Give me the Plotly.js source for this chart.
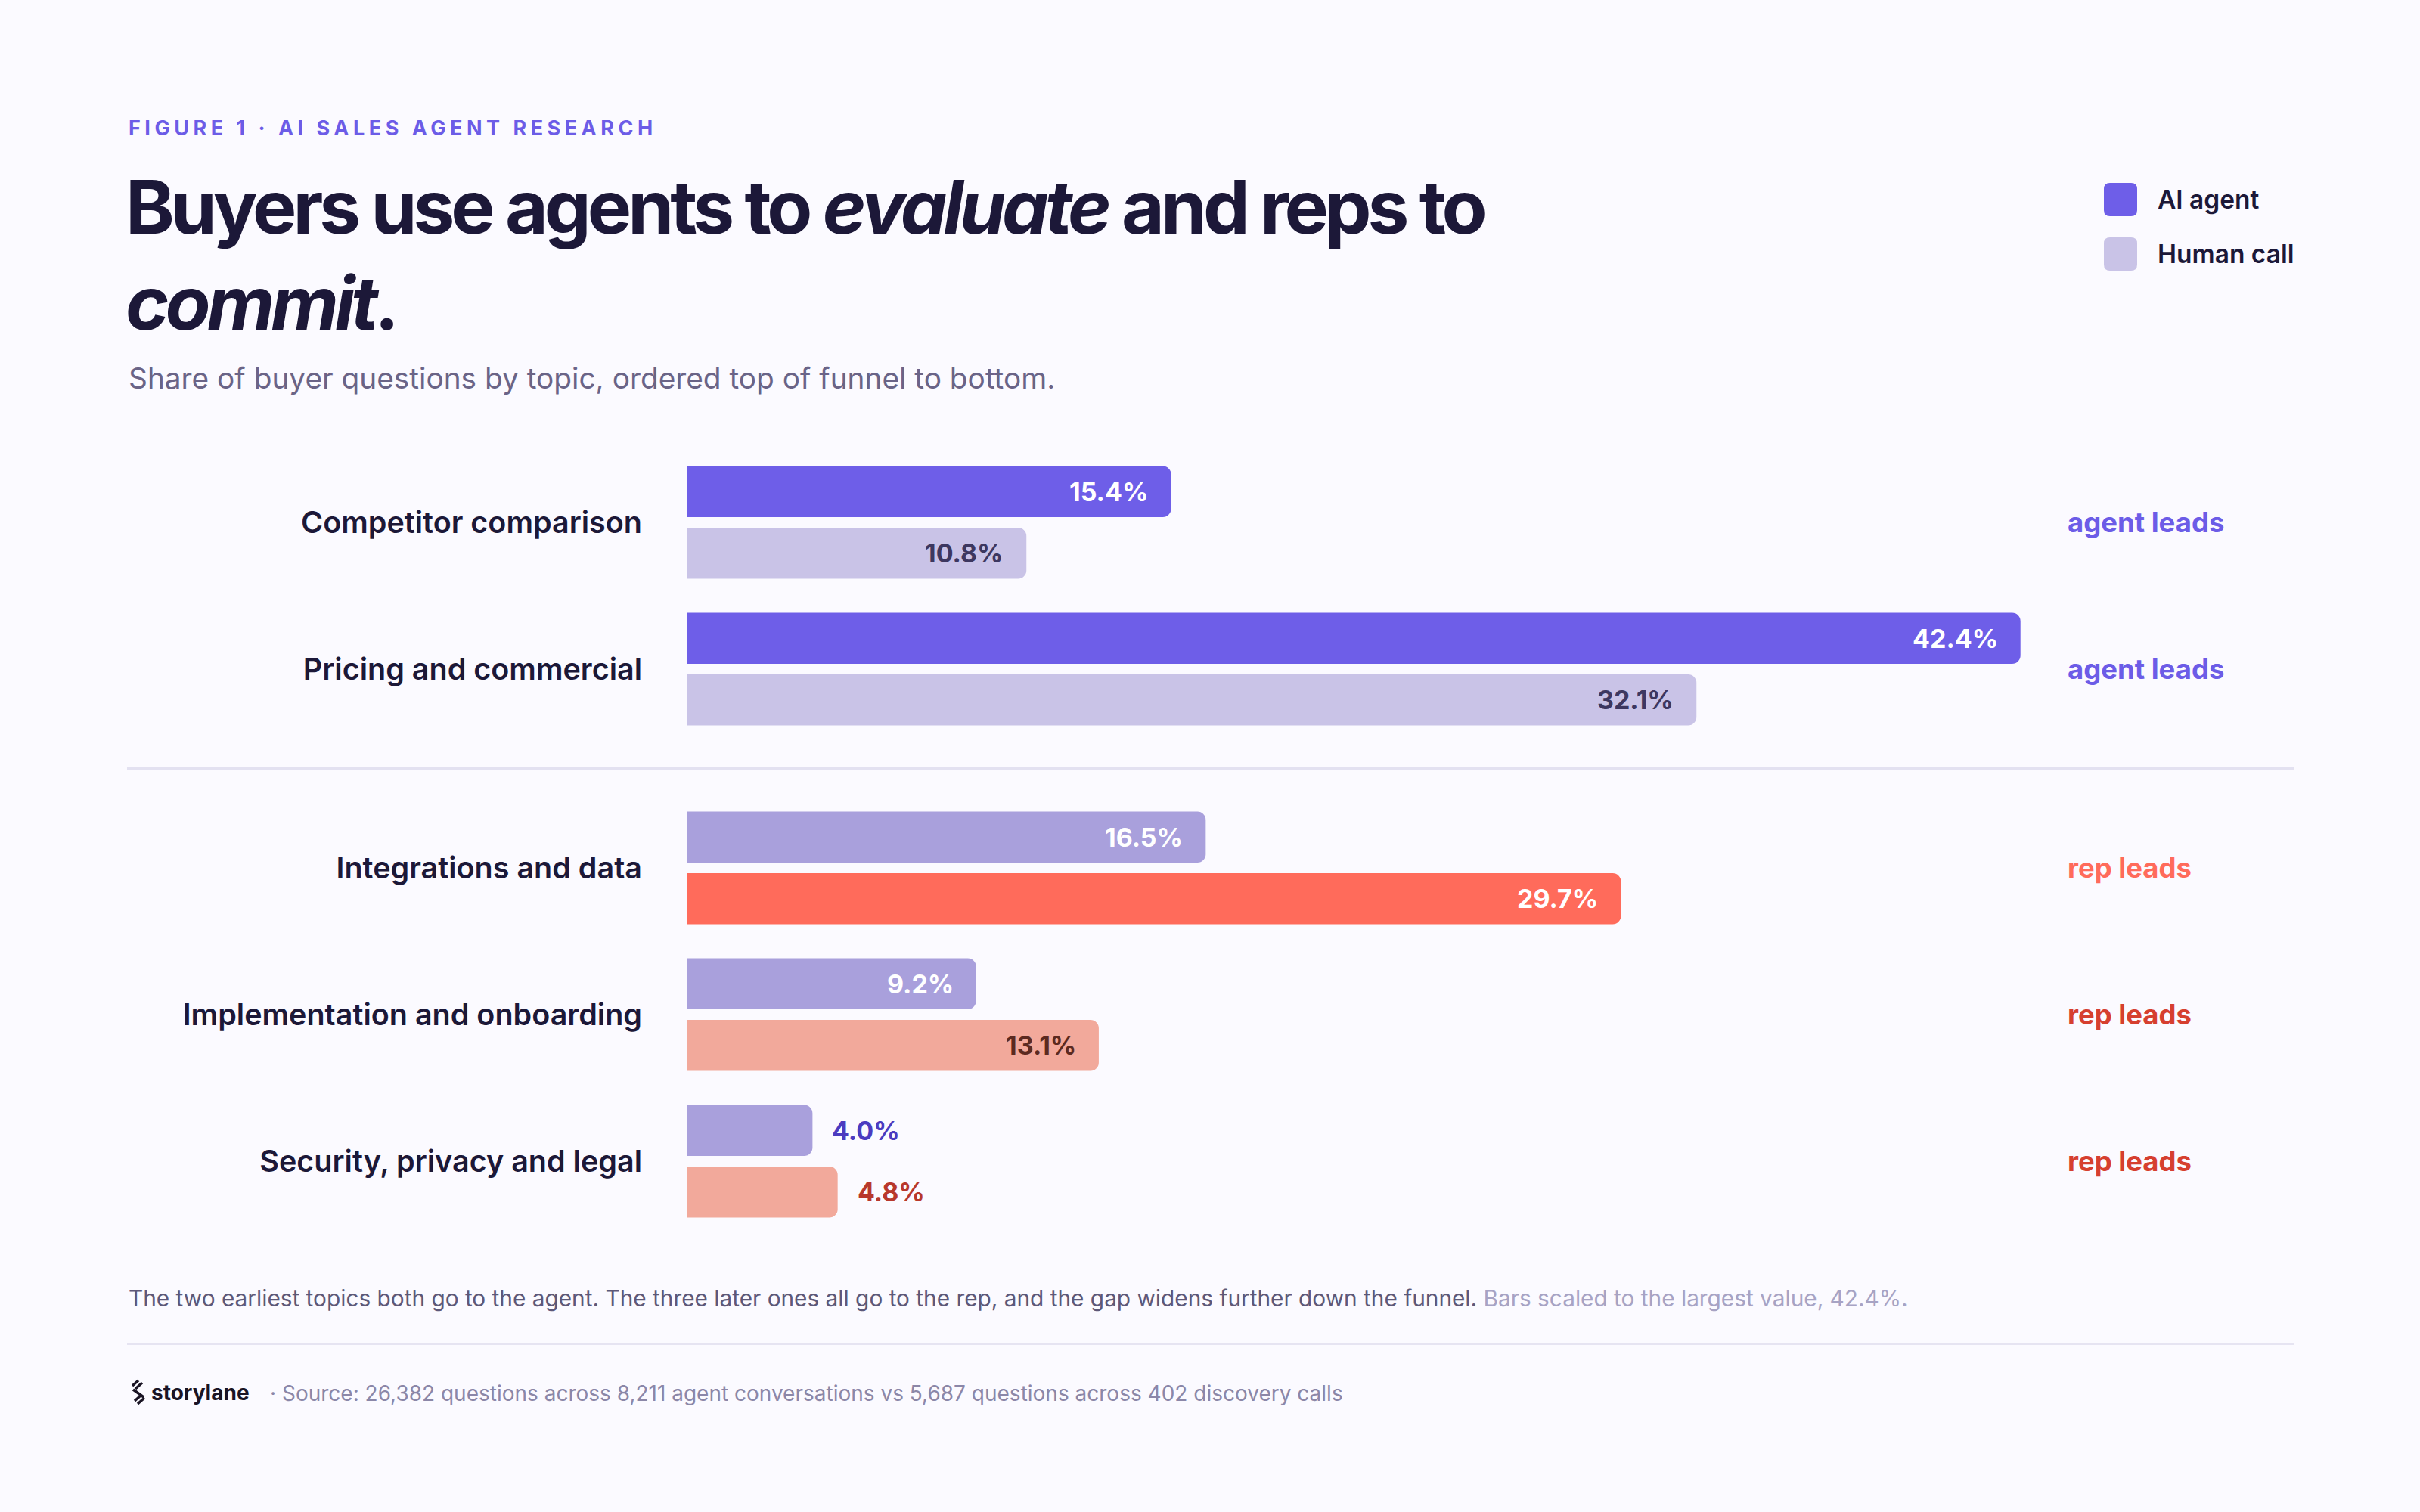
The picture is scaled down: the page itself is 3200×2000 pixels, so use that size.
<!DOCTYPE html>
<html>
<head>
<meta charset="utf-8">
<script src="https://cdn.plot.ly/plotly-3.0.1.min.js"></script>
<style>
  html, body { margin: 0; padding: 0; background: #fbfaff; }
  #chart { width: 3200px; height: 2000px; }
  .annotation-text[data-unformatted^="FIGURE"] { letter-spacing: 5.5px; }
  .annotation-text[data-unformatted^="Buyers"] { letter-spacing: -5px; }
</style>
</head>
<body>
<div id="chart"></div>
<script>
// data
const categories = [
    'Competitor comparison',
    'Pricing and commercial',
    'Integrations and data',
    'Implementation and onboarding',
    'Security, privacy and legal'
];
const agentShare = [15.4, 42.4, 16.5, 9.2, 4.0];
const humanShare = [10.8, 32.1, 29.7, 13.1, 4.8];

// styles
const agentColors = ['#6e5ee8', '#6e5ee8', '#a9a0dc', '#a9a0dc', '#a9a0dc'];
const humanColors = ['#c9c3e7', '#c9c3e7', '#ff6b5b', '#f2a99b', '#f2a99b'];
const agentTextColors = ['#ffffff', '#ffffff', '#ffffff', '#ffffff', '#4b3bc0'];
const humanTextColors = ['#3d3760', '#3d3760', '#ffffff', '#5c2a20', '#b8382c'];
const leadColors = ['#6c5ce7', '#6c5ce7', '#ff6b5b', '#d63f2f', '#d63f2f'];

const FONT = 'Inter, "Noto Sans", sans-serif';
const INK = '#1c1838';

// page geometry (pixels)
const W = 3200, H = 2000;
const L = 908, R = 500, T = 600, B = 380;
const px = x => (x - L) / (W - L - R);
const py = y => 1 - (y - T) / (H - T - B);

// who leads each topic, and y positions with a gap where it flips
const leads = agentShare.map((a, i) => a > humanShare[i] ? 'agent' : 'rep');
const GAP_EXTRA = 0.356;
let pos = [];
let shift = 0;
leads.forEach((l, i) => {
    if (i > 0 && l !== leads[i - 1]) shift += GAP_EXTRA;
    pos.push(i + shift);
});
const flipIndex = leads.findIndex((l, i) => i > 0 && l !== leads[i - 1]);

const BARGAP = 0.16;
const slot = (1 - BARGAP) / 2;
const off = slot / 2;

let traces = [
    {
        type: 'bar', orientation: 'h', name: 'AI agent',
        x: agentShare, y: pos,
        marker: { color: agentColors, cornerradius: 11 },
        hoverinfo: 'skip'
    },
    {
        type: 'bar', orientation: 'h', name: 'Human call',
        x: humanShare, y: pos,
        marker: { color: humanColors, cornerradius: 11 },
        hoverinfo: 'skip'
    }
];

let annotations = [];

// value labels
function valueLabel(v, y, color) {
    const outside = v < 6;
    annotations.push({
        xref: 'x', yref: 'y', x: v, y: y,
        text: v.toFixed(1) + '%',
        showarrow: false,
        xanchor: outside ? 'left' : 'right',
        yanchor: 'middle',
        xshift: outside ? 24 : -28,
        font: { family: FONT, size: 34, weight: 700, color: color }
    });
}
agentShare.forEach((v, i) => valueLabel(v, pos[i] - off, agentTextColors[i]));
humanShare.forEach((v, i) => valueLabel(v, pos[i] + off, humanTextColors[i]));

// "agent leads" / "rep leads"
leads.forEach((l, i) => {
    annotations.push({
        xref: 'paper', yref: 'y', x: px(2732), y: pos[i],
        text: l + ' leads', showarrow: false,
        xanchor: 'left', yanchor: 'middle', align: 'left',
        font: { family: FONT, size: 36.5, weight: 700, color: leadColors[i] }
    });
});

function pageText(x, y, text, font, yanchor) {
    annotations.push({
        xref: 'paper', yref: 'paper', x: px(x), y: py(y),
        text: text, showarrow: false,
        xanchor: 'left', yanchor: yanchor || 'middle', align: 'left',
        font: Object.assign({ family: FONT }, font)
    });
}

pageText(168, 170, 'FIGURE 1 · AI SALES AGENT RESEARCH', { size: 27, weight: 700, color: '#6c5ce7' });
pageText(164, 212, 'Buyers use agents to <i>evaluate</i> and reps to<br><i>commit</i>.', { size: 98, weight: 700, color: INK }, 'top');
pageText(168, 500, 'Share of buyer questions by topic, ordered top of funnel to bottom.', { size: 38.8, weight: 400, color: '#6a6487' });

// legend
pageText(2851, 264, 'AI agent', { size: 33.5, weight: 600, color: INK });
pageText(2851, 336, 'Human call', { size: 33.5, weight: 600, color: INK });

// footer
pageText(168, 1717,
    'The two earliest topics both go to the agent. The three later ones all go to the rep, and the gap widens further down the funnel. ' +
    '<span style="color:#a7a3c4">Bars scaled to the largest value, 42.4%.</span>',
    { size: 29.8, weight: 400, color: '#5d5878' });
pageText(198, 1842, 'storylane', { size: 28, weight: 700, color: '#1a1424' });
pageText(355, 1843,
    '· Source: 26,382 questions across 8,211 agent conversations vs 5,687 questions across 402 discovery calls',
    { size: 28, weight: 400, color: '#8b87a8' });

function roundSquare(cx, cy, h, r, color) {
    const p = `M${-h + r},${-h} L${h - r},${-h} Q${h},${-h} ${h},${-h + r} L${h},${h - r} Q${h},${h} ${h - r},${h} ` +
              `L${-h + r},${h} Q${-h},${h} ${-h},${h - r} L${-h},${-h + r} Q${-h},${-h} ${-h + r},${-h} Z`;
    return {
        type: 'path', xref: 'paper', yref: 'paper',
        xsizemode: 'pixel', ysizemode: 'pixel',
        xanchor: px(cx), yanchor: py(cy),
        path: p, fillcolor: color, line: { width: 0 }
    };
}

let shapes = [
    roundSquare(2804, 264, 22, 8, '#6e5ee8'),
    roundSquare(2804, 336, 22, 8, '#c9c3e7'),
    {
        type: 'line', xref: 'paper', yref: 'y',
        x0: px(168), x1: px(3033),
        y0: (pos[flipIndex - 1] + pos[flipIndex]) / 2,
        y1: (pos[flipIndex - 1] + pos[flipIndex]) / 2,
        line: { color: '#e3e1f1', width: 3 }
    },
    {
        type: 'line', xref: 'paper', yref: 'paper',
        x0: px(168), x1: px(3033), y0: py(1778), y1: py(1778),
        line: { color: '#e6e4f2', width: 2 }
    },
    // storylane mark
    {
        type: 'path', xref: 'paper', yref: 'paper',
        xsizemode: 'pixel', ysizemode: 'pixel',
        xanchor: px(183), yanchor: py(1841),
        path: 'M-8,8 L0,15 M-4,4 L5,12 M-7,3 L7,-7 M-5,-12 L4,-4 M-1,-16 L8,-8',
        line: { color: '#1a1424', width: 3.5 }
    }
];

let layout = {
    width: W, height: H,
    paper_bgcolor: '#fbfaff', plot_bgcolor: '#fbfaff',
    margin: { l: L, r: R, t: T, b: B, pad: 0 },
    barmode: 'group',
    bargap: BARGAP,
    bargroupgap: 0.172,
    showlegend: false,
    xaxis: {
        range: [0, 43.08], visible: false, fixedrange: true
    },
    yaxis: {
        range: [4.789, -0.469],
        tickvals: pos, ticktext: categories,
        ticks: '', ticklabelstandoff: 58,
        showgrid: false, zeroline: false, showline: false,
        tickfont: { family: FONT, size: 39.5, weight: 600, color: INK },
        fixedrange: true
    },
    annotations: annotations,
    shapes: shapes,
    font: { family: FONT }
};

Plotly.newPlot('chart', traces, layout, { staticPlot: true, displayModeBar: false });
</script>
</body>
</html>
